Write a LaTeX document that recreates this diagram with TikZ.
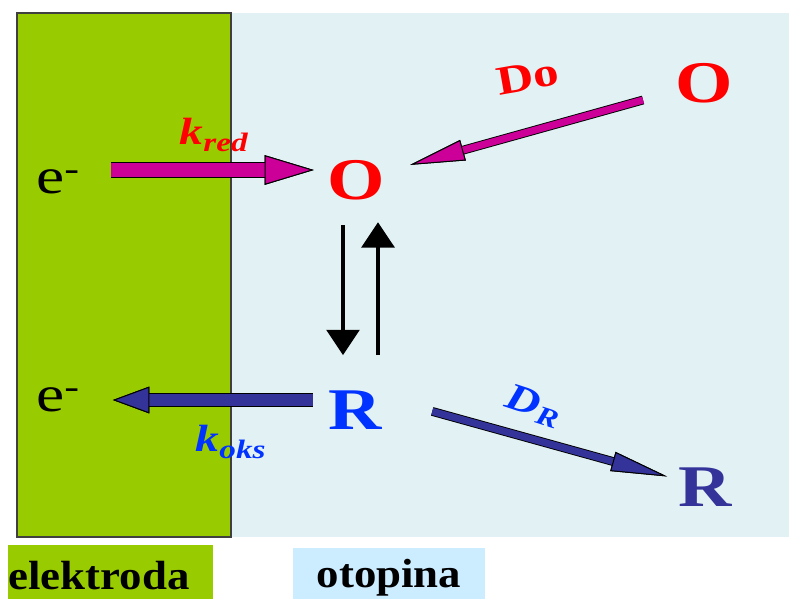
\documentclass[tikz,border=0pt]{standalone}
\usepackage{fontspec}
\setmainfont{Liberation Serif}
\newfontfamily\wideserif[FakeStretch=1.25]{Liberation Serif}
\newfontfamily\tagserif[FakeStretch=1.1]{Liberation Serif}
\usetikzlibrary{arrows.meta,calc}
\definecolor{elgreen}{HTML}{99CC00}
\definecolor{solblue}{HTML}{E2F2F4}
\definecolor{tagblue}{HTML}{CCECFF}
\definecolor{oxred}{HTML}{FF0000}
\definecolor{redblue}{HTML}{0033FF}
\definecolor{arrmag}{HTML}{CC0099}
\definecolor{arrnavy}{HTML}{333399}
\tikzset{
  fig/.style={x=0.025cm,y=-0.025cm},
  species/.style={inner sep=0pt,font=\wideserif\fontsize{42}{42}\selectfont\bfseries},
  elec/.style={inner sep=0pt,font=\wideserif\fontsize{36}{36}\selectfont},
  rate/.style={inner sep=0pt,font=\wideserif\fontsize{27}{27}\selectfont\bfseries\itshape},
  tag/.style={inner sep=0pt,font=\tagserif\fontsize{29}{29}\selectfont\bfseries},
  blockarr/.style n args={5}{line width=#2,draw=#1,
              preaction={draw=black,line width=#2+1.3pt},
              -{Triangle[length=#4,width=#5,line width=0.7pt,color=black,fill=#1]}},
  eqarrow/.style={line width=3.5pt,-{Triangle[length=18pt,width=23pt]}},
}

\begin{document}
\begin{tikzpicture}[fig]
\useasboundingbox (0,0) rectangle (789,599);

% --- electrode and solution
\fill[solblue] (231,13) rectangle (789,537);
\draw[fill=elgreen,draw=black!75,line width=0.8pt] (17,13) rectangle (231,537);

\fill[elgreen] (8,545) rectangle (213,599);
\fill[tagblue] (293,548) rectangle (485,599);
\node[tag] (elektroda) at (99,576) {elektroda};
\node[tag] (otopina) at (389,578) {otopina};

% --- species
\node[elec] (eTop) at (58,182) {e\textsuperscript{-}};
\node[elec] (eBot) at (58,400) {e\textsuperscript{-}};
\node[species,text=oxred] (Omid) at (356,180) {O};
\node[species,text=oxred] (Ofar) at (704,83) {O};
\node[species,text=redblue] (Rmid) at (355,410) {R};
\node[species,text=arrnavy] (Rfar) at (705,487) {R};

% --- rate and diffusion labels
\node[rate,text=oxred] (kred) at (214,135) {k\textsubscript{red}};
\node[rate,text=redblue] (koks) at (231,442) {k\textsubscript{oks}};
\node[rate,text=redblue,rotate=-18] (dR) at (534,406) {D\textsubscript{R}};
\node[inner sep=0pt,font=\wideserif\fontsize{29}{29}\selectfont\bfseries,text=oxred,rotate=10]
      (dO) at (528,77) {Do};

% --- arrows
\draw[blockarr={arrmag}{10pt}{}{35pt}{21pt},shorten <=38pt,shorten >=30pt]
      ($(eTop)+(0,-12)$) -- ($(Omid)+(0,-10)$);
\draw[blockarr={arrmag}{5pt}{}{39pt}{15pt},shorten <=45pt,shorten >=40pt]
      (Ofar.center) -- (Omid.center);
\draw[eqarrow,shorten <=32pt,shorten >=39pt] ($(Omid)+(-13,0)$) -- ($(Rmid)+(-12,0)$);
\draw[eqarrow,shorten <=39pt,shorten >=30pt] ($(Rmid)+(23,0)$) -- ($(Omid)+(22,0)$);
\draw[blockarr={arrnavy}{8.5pt}{}{26pt}{19pt},shorten <=30pt,shorten >=39pt]
      ($(Rmid)+(0,-10)$) -- (eBot.center);
\draw[blockarr={arrnavy}{5pt}{}{40pt}{14pt},shorten <=57pt,shorten >=28pt]
      ($(Rmid)+(0,-20)$) -- (Rfar.center);

\end{tikzpicture}
\end{document}
